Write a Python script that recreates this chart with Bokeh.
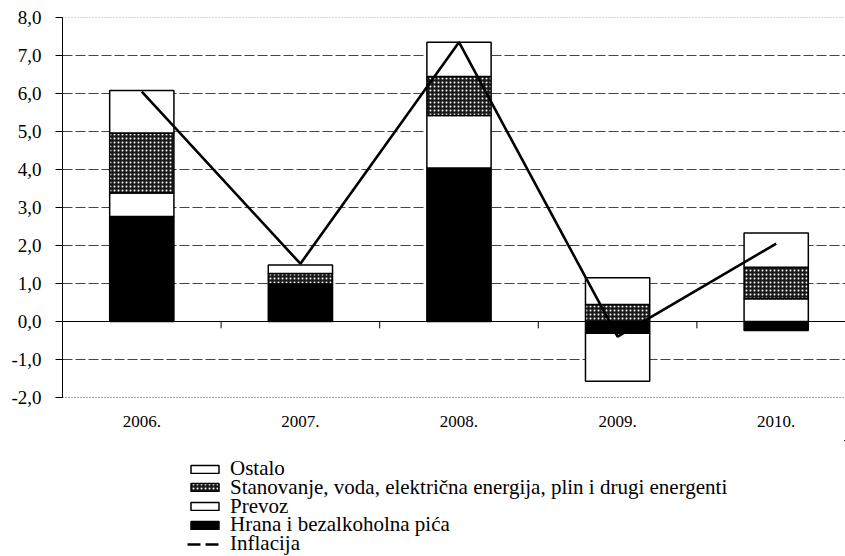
from bokeh.plotting import figure
from bokeh.layouts import column
from bokeh.models import (ColumnDataSource, Range1d, FixedTicker, Span, Legend, LegendItem)
from bokeh.embed import file_html
from bokeh.resources import INLINE

years = ["2006.", "2007.", "2008.", "2009.", "2010."]
hrana = [2.76, 0.99, 4.04, -0.31, -0.24]
prevoz = [0.62, 0.0, 1.38, -1.26, 0.60]
stanovanje = [1.58, 0.27, 1.03, 0.45, 0.83]
ostalo = [1.12, 0.23, 0.90, 0.70, 0.90]
inflacija = [6.05, 1.52, 7.35, -0.40, 2.05]

series_names = ["Hrana i bezalkoholna pića", "Prevoz",
                "Stanovanje, voda, električna energija, plin i drugi energenti", "Ostalo"]
series_vals = [hrana, prevoz, stanovanje, ostalo]
line_name = "Inflacija"

y_ticks = [-2, -1, 0, 1, 2, 3, 4, 5, 6, 7, 8]
y_tick_labels = ["-2,0", "-1,0", "0,0", "1,0", "2,0", "3,0", "4,0", "5,0", "6,0", "7,0", "8,0"]

FONT = "Liberation Serif"
xs = list(range(len(years)))

p = figure(width=845, height=440, output_backend="svg", toolbar_location=None,
           x_range=Range1d(-0.5, 4.437), y_range=Range1d(-2, 8),
           min_border_left=62, min_border_top=17, min_border_right=0, min_border_bottom=43)
p.outline_line_color = None
p.background_fill_color = "white"

# grid
p.xgrid.visible = False
p.ygrid.ticker = FixedTicker(ticks=[t for t in y_ticks if -2 < t < 8])
p.ygrid.grid_line_color = "#444444"
p.ygrid.grid_line_dash = "10 3"
p.ygrid.grid_line_width = 1

# stacked bars (positives stack up, negatives stack down)
pos = [0.0] * len(years)
neg = [0.0] * len(years)
styles = [
    dict(fill_color="black"),
    dict(fill_color="white"),
    dict(fill_color="#1a1a1a", hatch_pattern="dot", hatch_color="white", hatch_scale=4, hatch_weight=1),
    dict(fill_color="white"),
]
sources = {}
for name, vals, st in zip(series_names, series_vals, styles):
    bottoms, tops = [], []
    for i, v in enumerate(vals):
        if v >= 0:
            bottoms.append(pos[i]); tops.append(pos[i] + v); pos[i] += v
        else:
            bottoms.append(neg[i]); tops.append(neg[i] + v); neg[i] += v
    src = ColumnDataSource(dict(x=xs, bottom=bottoms, top=tops))
    sources[name] = src
    p.vbar(x="x", bottom="bottom", top="top", width=0.405, source=src,
           line_color="black", line_width=1.5, **st)

# zero line and top border
p.add_layout(Span(location=0, dimension="width", line_color="black", line_width=1.2))
p.add_layout(Span(location=8, dimension="width", line_color="#555555", line_dash="1 2", line_width=1))

# category boundary ticks on zero line
bounds = [i + 0.5 for i in xs[:-1]]
p.segment(x0=bounds, y0=[0] * len(bounds), x1=bounds, y1=[-0.18] * len(bounds),
          line_color="black", line_width=1)

# inflation line
src_l = ColumnDataSource(dict(x=xs, y=inflacija))
p.line(x="x", y="y", source=src_l, line_color="black", line_width=2.6)

# axes
p.yaxis.ticker = FixedTicker(ticks=y_ticks)
p.yaxis.major_label_overrides = {t: l for t, l in zip(y_ticks, y_tick_labels)}
p.yaxis.major_label_text_font = FONT
p.yaxis.major_label_text_font_size = "19px"
p.yaxis.major_label_text_color = "black"
p.yaxis.major_tick_out = 7
p.yaxis.major_tick_in = 0
p.yaxis.minor_tick_line_color = None
p.yaxis.axis_line_color = "black"
p.yaxis.major_tick_line_color = "black"
p.yaxis.major_label_standoff = 14

p.xaxis.ticker = FixedTicker(ticks=xs)
p.xaxis.major_label_overrides = {i: y for i, y in zip(xs, years)}
p.xaxis.major_label_text_font = FONT
p.xaxis.major_label_text_font_size = "17px"
p.xaxis.major_label_text_color = "black"
p.xaxis.major_tick_line_color = None
p.xaxis.minor_tick_line_color = None
p.xaxis.axis_line_color = "#555555"
p.xaxis.axis_line_dash = "1 2"
p.xaxis.major_label_standoff = 12

# legend in a separate strip below (its glyphs share the data but lie outside its view)
p2 = figure(width=845, height=116, output_backend="svg", toolbar_location=None,
            x_axis_type=None, y_axis_type=None,
            x_range=Range1d(-30, -29), y_range=Range1d(-30, -29),
            min_border_left=0, min_border_right=0, min_border_top=0, min_border_bottom=0)
p2.outline_line_color = None
p2.grid.visible = False
leg_r = {}
for name, st in zip(series_names, styles):
    leg_r[name] = p2.vbar(x="x", bottom="bottom", top="top", width=0.4, source=sources[name],
                          line_color="black", line_width=1.5, **st)
leg_line = p2.line(x="x", y="y", source=src_l, line_color="black", line_width=2.5, line_dash="13 5")

entries = [
    (series_names[3], leg_r[series_names[3]]),
    (series_names[2], leg_r[series_names[2]]),
    (series_names[1], leg_r[series_names[1]]),
    (series_names[0], leg_r[series_names[0]]),
    (line_name, leg_line),
]
row_step = 18.75
n = len(entries)
for k, (label, rend) in enumerate(entries):
    lg = Legend(items=[LegendItem(label=label, renderers=[rend])],
                location=(125, (n - 1 - k) * row_step))
    lg.label_text_font = FONT
    lg.label_text_font_size = "21px"
    lg.label_text_color = "black"
    lg.label_height = 18
    lg.glyph_height = 10
    lg.glyph_width = 35
    lg.label_standoff = 8
    lg.spacing = 0
    lg.padding = 0
    lg.margin = 0
    lg.border_line_color = None
    lg.background_fill_alpha = 0
    p2.add_layout(lg, "center")

layout = column(p, p2, spacing=0)
open("out.html", "w").write(file_html(layout, INLINE))
